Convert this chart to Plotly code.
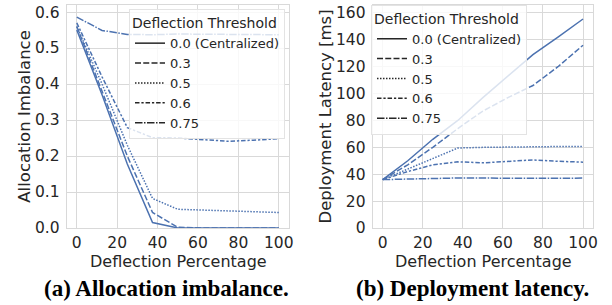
import plotly.graph_objects as go

x_pct = [0, 12.5, 25, 37.5, 50, 62.5, 75, 87.5, 100]
thresholds = ["0.0 (Centralized)", "0.3", "0.5", "0.6", "0.75"]

imb_00 = [0.55, 0.37, 0.178, 0.015, 0.0, 0.0, 0.0, 0.0, 0.0]
imb_03 = [0.56, 0.38, 0.20, 0.043, 0.002, 0.0, 0.0, 0.0, 0.0]
imb_05 = [0.56, 0.40, 0.23, 0.082, 0.052, 0.050, 0.048, 0.045, 0.043]
imb_06 = [0.57, 0.42, 0.279, 0.251, 0.250, 0.246, 0.241, 0.244, 0.248]
imb_075 = [0.586, 0.549, 0.538, 0.537, 0.539, 0.538, 0.538, 0.538, 0.537]

lat_00 = [36, 50, 66, 80, 97, 113, 129, 142, 155.5]
lat_03 = [36, 47, 60, 74, 87, 97, 106, 120, 136]
lat_05 = [36, 44, 52, 59.5, 60, 60.3, 60.6, 60.6, 60.6]
lat_06 = [36, 42, 47, 49.2, 48.5, 49.3, 50.6, 49.6, 49]
lat_075 = [36, 36.6, 36.8, 37.2, 37, 37, 37, 37, 37.1]

imbalance = [imb_00, imb_03, imb_05, imb_06, imb_075]
latency = [lat_00, lat_03, lat_05, lat_06, lat_075]

BLUE = "#4c72b0"
TXT = "#262626"
GRID = "#d9d9d9"
LW = 1.5
FONT = "DejaVu Sans"
dashes = ["solid", "6px,2.25px", "1.5px,1.5px", "4.5px,1.9px,2.25px,1.9px", "7.5px,1.5px,1.5px,1.5px"]

fig = go.Figure()

for i, name in enumerate(thresholds):
    fig.add_trace(go.Scatter(x=x_pct, y=imbalance[i], mode="lines", showlegend=False,
                             line=dict(color=BLUE, width=LW, dash=dashes[i]),
                             xaxis="x", yaxis="y"))
    fig.add_trace(go.Scatter(x=x_pct, y=latency[i], mode="lines", showlegend=False,
                             line=dict(color=BLUE, width=LW, dash=dashes[i]),
                             xaxis="x2", yaxis="y2"))

# legend handles (black)
for leg, xa, ya in (("legend", "x", "y"), ("legend2", "x2", "y2")):
    for i, name in enumerate(thresholds):
        fig.add_trace(go.Scatter(x=[None], y=[None], mode="lines", name=name, legend=leg,
                                 line=dict(color=TXT, width=LW, dash=dashes[i]),
                                 xaxis=xa, yaxis=ya))

ax_common = dict(showgrid=True, gridcolor=GRID, gridwidth=1, zeroline=False,
                 showline=True, mirror=True, linecolor=GRID, linewidth=1,
                 ticks="", automargin=False,
                 tickfont=dict(size=15.5, color=TXT, family=FONT),
                 title_font=dict(size=16.5, color=TXT, family=FONT))

leg_common = dict(bgcolor="rgba(255,255,255,0.8)", bordercolor="#e3e3e3", borderwidth=1,
                  font=dict(size=13, color=TXT, family=FONT),
                  title=dict(text="Deflection Threshold", side="top",
                             font=dict(size=14, color=TXT, family=FONT)),
                  xanchor="left", yanchor="top", tracegroupgap=0, itemwidth=30)

title_font = dict(size=16, color=TXT, family=FONT)
cap_font = dict(size=23, color="black", family="Liberation Serif")

fig.update_layout(
    width=612, height=305,
    margin=dict(l=0, r=0, t=0, b=0, autoexpand=False),
    paper_bgcolor="white", plot_bgcolor="white",
    xaxis=dict(domain=[0.109, 0.472], range=[-5, 105], tickvals=[0, 20, 40, 60, 80, 100],
               ticklabelstandoff=0, anchor="y", **ax_common),
    yaxis=dict(domain=[0.2525, 0.984], range=[0, 0.62], tickvals=[0, 0.1, 0.2, 0.3, 0.4, 0.5, 0.6],
               tickformat=".1f", ticklabelstandoff=3,
               title=dict(text="Allocation Imbalance", standoff=0), anchor="x", **ax_common),
    xaxis2=dict(domain=[0.609, 0.969], range=[-5, 105], tickvals=[0, 20, 40, 60, 80, 100],
                ticklabelstandoff=0, anchor="y2", **ax_common),
    yaxis2=dict(domain=[0.2525, 0.984], range=[0, 166], tickvals=[0, 20, 40, 60, 80, 100, 120, 140, 160],
                ticklabelstandoff=3,
                title=dict(text="Deployment Latency [ms]", standoff=0), anchor="x2", **ax_common),
    legend=dict(x=129 / 612, y=1 - 9 / 305, **leg_common),
    legend2=dict(x=371 / 612, y=1 - 4.5 / 305, **leg_common),
    annotations=[
        dict(text="Deflection Percentage", x=178 / 612, y=1 - 261 / 305, xref="paper", yref="paper",
             showarrow=False, xanchor="center", yanchor="middle", font=title_font),
        dict(text="Deflection Percentage", x=483 / 612, y=1 - 261 / 305, xref="paper", yref="paper",
             showarrow=False, xanchor="center", yanchor="middle", font=title_font),
        dict(text="<b>(a) Allocation imbalance.</b>", x=167 / 612, y=1 - 288 / 305, xref="paper", yref="paper",
             showarrow=False, xanchor="center", yanchor="middle", font=cap_font),
        dict(text="<b>(b) Deployment latency.</b>", x=472 / 612, y=1 - 288 / 305, xref="paper", yref="paper",
             showarrow=False, xanchor="center", yanchor="middle", font=cap_font),
    ],
)

fig.write_html("out.html", config={"displayModeBar": False},
               post_script="document.body.style.margin='0';document.body.style.overflow='hidden';")
